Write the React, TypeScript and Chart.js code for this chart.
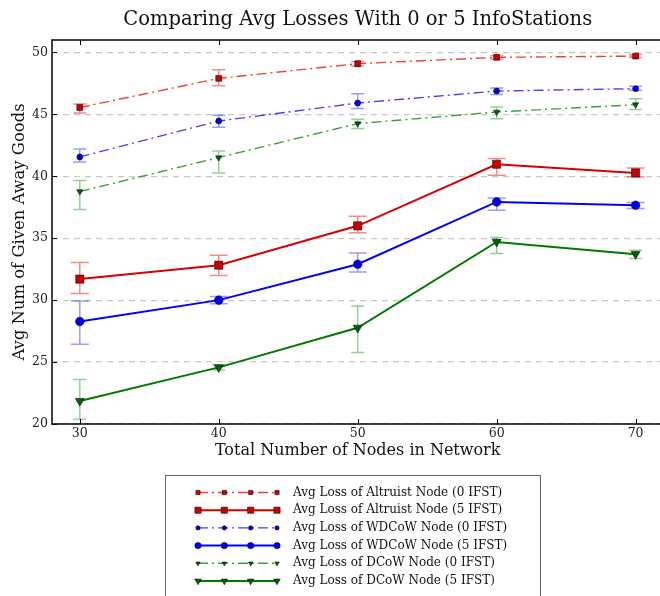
import React, { useEffect, useRef } from 'react';
import { Chart, registerables } from 'chart.js';
import { drawPoint } from 'chart.js/helpers';

Chart.register(...registerables);

// ---------- data ----------
const nodeCounts = [30, 40, 50, 60, 70];
const xTicks = [30, 40, 50, 60, 70];
const yTicks = [20, 25, 30, 35, 40, 45, 50];

const altruist0 = [45.55, 47.9, 49.09, 49.6, 49.7];
const altruist0Low = [45.1, 47.31, 48.9, 49.45, 49.58];
const altruist0High = [45.83, 48.6, 49.27, 49.73, 49.82];

const altruist5 = [31.7, 32.82, 36.0, 40.97, 40.27];
const altruist5Low = [30.54, 31.98, 35.43, 40.08, 39.94];
const altruist5High = [33.04, 33.63, 36.77, 41.43, 40.67];

const wdcow0 = [41.56, 44.46, 45.91, 46.88, 47.07];
const wdcow0Low = [41.15, 43.95, 45.46, 46.61, 46.94];
const wdcow0High = [42.2, 44.92, 46.67, 47.12, 47.26];

const wdcow5 = [28.28, 30.0, 32.9, 37.93, 37.66];
const wdcow5Low = [26.43, 29.7, 32.28, 37.26, 37.4];
const wdcow5High = [29.92, 30.3, 33.81, 38.25, 37.88];

const dcow0 = [38.77, 41.51, 44.25, 45.19, 45.78];
const dcow0Low = [37.31, 40.27, 43.85, 44.65, 45.38];
const dcow0High = [39.65, 42.04, 44.6, 45.59, 46.26];

const dcow5 = [21.85, 24.57, 27.77, 34.7, 33.71];
const dcow5Low = [20.38, 24.35, 25.78, 33.77, 33.36];
const dcow5High = [23.6, 24.78, 29.52, 35.05, 34.03];

const seriesLabels = [
  'Avg Loss of Altruist Node (0 IFST)',
  'Avg Loss of Altruist Node (5 IFST)',
  'Avg Loss of WDCoW Node (0 IFST)',
  'Avg Loss of WDCoW Node (5 IFST)',
  'Avg Loss of DCoW Node (0 IFST)',
  'Avg Loss of DCoW Node (5 IFST)',
];

const titleText = 'Comparing Avg Losses With 0 or 5 InfoStations';
const xTitle = 'Total Number of Nodes in Network';
const yTitle = 'Avg Num of Given Away Goods';

const FONT = "'DejaVu Serif', 'Liberation Serif', serif";

const RED = '#d80000';
const BLUE = '#0000ff';
const GREEN = '#007a00';
const RED_A = 'rgba(225,0,0,0.75)';
const BLUE_A = 'rgba(0,0,255,0.75)';
const GREEN_A = 'rgba(0,128,0,0.75)';
const DASHDOT = [10, 4, 2, 4];

type Style = {
  line: string; fill: string; err: string; width: number; dash: number[];
  pointStyle: string; radius: number; rotation: number; cap: number; legendRadius: number;
};

const styles: Style[] = [
  { line: RED_A, fill: '#cc0000', err: 'rgba(220,0,0,0.45)', width: 1.4, dash: DASHDOT, pointStyle: 'rect', radius: 4.2, rotation: 0, cap: 6.5, legendRadius: 3 },
  { line: RED, fill: '#cc0000', err: 'rgba(220,0,0,0.45)', width: 2, dash: [], pointStyle: 'rect', radius: 5.8, rotation: 0, cap: 9, legendRadius: 4.4 },
  { line: BLUE_A, fill: '#0000ee', err: 'rgba(0,0,255,0.4)', width: 1.4, dash: DASHDOT, pointStyle: 'circle', radius: 3, rotation: 0, cap: 6.5, legendRadius: 2.2 },
  { line: BLUE, fill: '#0000ee', err: 'rgba(0,0,255,0.4)', width: 2, dash: [], pointStyle: 'circle', radius: 4.3, rotation: 0, cap: 9, legendRadius: 3.2 },
  { line: GREEN_A, fill: '#006400', err: 'rgba(0,128,0,0.4)', width: 1.4, dash: DASHDOT, pointStyle: 'triangle', radius: 3.6, rotation: 180, cap: 6.5, legendRadius: 2.6 },
  { line: GREEN, fill: '#006400', err: 'rgba(0,128,0,0.4)', width: 2, dash: [], pointStyle: 'triangle', radius: 5.2, rotation: 180, cap: 6.5, legendRadius: 3.8 },
];

const values = [altruist0, altruist5, wdcow0, wdcow5, dcow0, dcow5];
const lows = [altruist0Low, altruist5Low, wdcow0Low, wdcow5Low, dcow0Low, dcow5Low];
const highs = [altruist0High, altruist5High, wdcow0High, wdcow5High, dcow0High, dcow5High];

const errorBarPlugin = {
  id: 'errorBars',
  beforeDatasetsDraw(chart: any) {
    const ctx = chart.ctx;
    const xs = chart.scales.x;
    const ys = chart.scales.y;
    ctx.save();
    ctx.beginPath();
    ctx.rect(chart.chartArea.left, chart.chartArea.top, chart.chartArea.width, chart.chartArea.height);
    ctx.clip();
    values.forEach((_, i) => {
      const st = styles[i];
      ctx.strokeStyle = st.err;
      ctx.lineWidth = 1.5;
      ctx.setLineDash([]);
      nodeCounts.forEach((n, j) => {
        const x = xs.getPixelForValue(n);
        const y1 = ys.getPixelForValue(lows[i][j]);
        const y2 = ys.getPixelForValue(highs[i][j]);
        ctx.beginPath();
        ctx.moveTo(x, y1); ctx.lineTo(x, y2);
        ctx.moveTo(x - st.cap, y1); ctx.lineTo(x + st.cap, y1);
        ctx.moveTo(x - st.cap, y2); ctx.lineTo(x + st.cap, y2);
        ctx.stroke();
      });
    });
    ctx.restore();
  },
};

const framePlugin = {
  id: 'frame',
  afterDraw(chart: any) {
    const ctx = chart.ctx;
    const { left, top, right, bottom } = chart.chartArea;
    const xs = chart.scales.x;
    const ys = chart.scales.y;
    ctx.save();
    ctx.setLineDash([]);
    ctx.strokeStyle = '#000';
    ctx.lineWidth = 1;
    ctx.beginPath();
    xTicks.forEach((t) => {
      const x = Math.round(xs.getPixelForValue(t)) + 0.5;
      ctx.moveTo(x, bottom); ctx.lineTo(x, bottom - 5);
      ctx.moveTo(x, top); ctx.lineTo(x, top + 5);
    });
    yTicks.forEach((t) => {
      const y = Math.round(ys.getPixelForValue(t)) + 0.5;
      ctx.moveTo(left, y); ctx.lineTo(left + 5, y);
    });
    ctx.stroke();
    ctx.lineWidth = 1.6;
    ctx.strokeStyle = '#111';
    ctx.strokeRect(left, top, right - left, bottom - top);
    ctx.restore();
  },
};

const legendPlugin = {
  id: 'boxLegend',
  afterDraw(chart: any) {
    const ctx = chart.ctx;
    const boxLeft = 165.5, boxTop = 475.5, boxW = 375, boxH = 140;
    ctx.save();
    ctx.fillStyle = '#fff';
    ctx.fillRect(boxLeft, boxTop, boxW, boxH);
    ctx.strokeStyle = '#666';
    ctx.lineWidth = 1;
    ctx.setLineDash([]);
    ctx.strokeRect(boxLeft, boxTop, boxW, boxH);
    const x0 = 198, x1 = 277, textX = 293;
    seriesLabels.forEach((label, i) => {
      const st = styles[i];
      const y = 492.5 + i * 17.7;
      ctx.strokeStyle = st.line;
      ctx.lineWidth = st.width;
      ctx.setLineDash(st.dash);
      ctx.beginPath();
      ctx.moveTo(x0, y); ctx.lineTo(x1, y);
      ctx.stroke();
      ctx.setLineDash([]);
      for (let k = 0; k < 4; k++) {
        const px = x0 + (k * (x1 - x0)) / 3;
        ctx.fillStyle = st.fill;
        ctx.strokeStyle = 'rgba(0,0,0,0.65)';
        ctx.lineWidth = 0.8;
        drawPoint(ctx, { pointStyle: st.pointStyle as any, rotation: st.rotation, radius: st.legendRadius, borderWidth: 0.8 }, px, y);
      }
      ctx.fillStyle = '#111';
      ctx.font = `12px ${FONT}`;
      ctx.textBaseline = 'middle';
      ctx.textAlign = 'left';
      ctx.fillText(label, textX, y);
    });
    ctx.restore();
  },
};

export default function App() {
  const ref = useRef<HTMLCanvasElement | null>(null);
  useEffect(() => {
    document.body.style.margin = '0';
    if (!ref.current) return;
    const datasets = values.map((v, i) => {
      const st = styles[i];
      return {
        label: seriesLabels[i],
        data: nodeCounts.map((n, j) => ({ x: n, y: v[j] })),
        borderColor: st.line,
        borderWidth: st.width,
        borderDash: st.dash,
        backgroundColor: st.fill,
        pointStyle: st.pointStyle,
        pointRadius: st.radius,
        pointRotation: st.rotation,
        pointBackgroundColor: st.fill,
        pointBorderColor: 'rgba(0,0,0,0.65)',
        pointBorderWidth: 0.8,
        fill: false,
        tension: 0,
      };
    });
    const chart = new Chart(ref.current, {
      type: 'line',
      data: { datasets: datasets as any },
      plugins: [errorBarPlugin, framePlugin, legendPlugin],
      options: {
        animation: false,
        responsive: false,
        layout: { padding: { left: 0, right: 5, top: 0, bottom: 132 } },
        plugins: {
          legend: { display: false },
          tooltip: { enabled: false },
          title: {
            display: true,
            text: titleText,
            fullSize: false,
            color: '#111',
            font: { family: FONT, size: 19.5, weight: 'normal', lineHeight: 1.2 },
            padding: { top: 8, bottom: 8.6 },
          },
        },
        scales: {
          x: {
            type: 'linear',
            min: 28,
            max: 72,
            afterBuildTicks: (s: any) => { s.ticks = xTicks.map((v) => ({ value: v })); },
            afterFit: (s: any) => { s.height = 40; },
            grid: { display: false, drawTicks: false },
            border: { display: false },
            ticks: { color: '#222', font: { family: FONT, size: 12.5 }, padding: 2, maxRotation: 0 },
            title: { display: true, text: xTitle, color: '#111', font: { family: FONT, size: 16 }, padding: { top: 0, bottom: 4 } },
          },
          y: {
            type: 'linear',
            min: 20,
            max: 51,
            afterBuildTicks: (s: any) => { s.ticks = yTicks.map((v) => ({ value: v })); },
            afterFit: (s: any) => { s.width = 52; },
            grid: { color: '#c8c8c8', lineWidth: 1.2, drawTicks: false },
            border: { display: false, dash: [6, 5] },
            ticks: { color: '#222', font: { family: FONT, size: 12.5 }, padding: 4 },
            title: { display: true, text: yTitle, color: '#111', font: { family: FONT, size: 16.4 }, padding: { top: 10, bottom: 0 } },
          },
        },
      } as any,
    });
    return () => chart.destroy();
  }, []);
  return (
    <div style={{ width: 660, height: 596, overflow: 'hidden', background: '#fff' }}>
      <canvas ref={ref} width={670} height={596} style={{ display: 'block' }} />
    </div>
  );
}
